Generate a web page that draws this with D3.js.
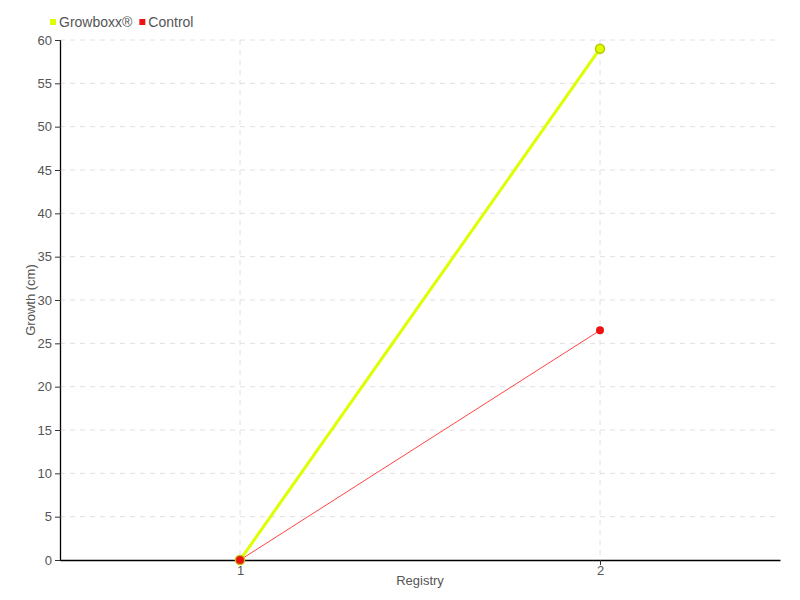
<!DOCTYPE html>
<html>
<head>
<meta charset="utf-8">
<script src="https://cdnjs.cloudflare.com/ajax/libs/d3/7.8.5/d3.min.js"></script>
<style>
  body { margin: 0; background: #fff; }
  svg text { font-family: "Liberation Sans", "DejaVu Sans", sans-serif; fill: #555; }
</style>
</head>
<body>
<div id="chart"></div>
<script>
// Data
const registries = [1, 2];
const growboxx = [0, 59];
const control = [0, 26.5];
const yTicks = [0, 5, 10, 15, 20, 25, 30, 35, 40, 45, 50, 55, 60];
const seriesNames = ["Growboxx®", "Control"];
const seriesColors = ["#ddff00", "#ee1111"];

const width = 800, height = 600;
const margin = { top: 40, right: 20, bottom: 40, left: 60 };
const font = '"Liberation Sans", "DejaVu Sans", sans-serif';

const svg = d3.select("#chart").append("svg")
  .attr("width", width).attr("height", height);

const x = d3.scaleLinear().domain([0.5, 2.5]).range([margin.left, width - margin.right]);
const y = d3.scaleLinear().domain([0, 60]).range([height - margin.bottom, margin.top]);

// Grid
svg.append("g").selectAll("line").data(yTicks.slice(1)).enter().append("line")
  .attr("x1", margin.left).attr("x2", width - margin.right)
  .attr("y1", d => y(d)).attr("y2", d => y(d))
  .attr("stroke", "#e0e0e0").attr("stroke-dasharray", "5,5");
svg.append("g").selectAll("line").data(registries).enter().append("line")
  .attr("x1", d => x(d)).attr("x2", d => x(d))
  .attr("y1", margin.top).attr("y2", height - margin.bottom)
  .attr("stroke", "#e0e0e0").attr("stroke-dasharray", "5,5");

// Axes
const yAxis = svg.append("g").attr("transform", `translate(${margin.left},0)`)
  .call(d3.axisLeft(y).tickValues(yTicks).tickSize(5).tickSizeOuter(0).tickPadding(3));
yAxis.selectAll(".tick line").attr("x2", -5).attr("x1", 1);
const xAxis = svg.append("g").attr("transform", `translate(0,${height - margin.bottom})`)
  .call(d3.axisBottom(x).tickValues(registries).tickFormat(d3.format("d")).tickSize(5).tickSizeOuter(0).tickPadding(1));
[yAxis, xAxis].forEach(a => {
  a.select(".domain").attr("stroke", "#000").attr("stroke-width", 1.3);
  a.selectAll(".tick line").attr("stroke", "#333");
  a.selectAll("text").style("font-size", "13px").style("font-family", font).attr("fill", "#555");
});

// Axis titles
svg.append("text").attr("x", (margin.left + width - margin.right) / 2).attr("y", 585)
  .attr("text-anchor", "middle").style("font-size", "13px").text("Registry");
svg.append("text").attr("transform", `translate(35,${(margin.top + height - margin.bottom) / 2}) rotate(-90)`)
  .attr("text-anchor", "middle").style("font-size", "13px").text("Growth (cm)");

// Lines
const line = d3.line().x((d, i) => x(registries[i])).y(d => y(d));
svg.append("path").datum(control).attr("d", line).attr("fill", "none")
  .attr("stroke", "#ff4444").attr("stroke-width", 1);
svg.append("path").datum(growboxx).attr("d", line).attr("fill", "none")
  .attr("stroke", "#ddff00").attr("stroke-width", 3);

// Points
svg.append("g").selectAll("circle").data(growboxx).enter().append("circle")
  .attr("cx", (d, i) => x(registries[i])).attr("cy", d => y(d)).attr("r", 4.5)
  .attr("fill", "#ddff00").attr("stroke", "#b8c800").attr("stroke-width", 1.5);
svg.append("g").selectAll("circle").data(control).enter().append("circle")
  .attr("cx", (d, i) => x(registries[i])).attr("cy", d => y(d)).attr("r", 4)
  .attr("fill", "#ee1111");

// Legend
const legend = svg.append("g").attr("transform", "translate(50,22)");
let lx = 0;
seriesNames.forEach((name, i) => {
  const g = legend.append("g").attr("transform", `translate(${lx},0)`);
  g.append("rect").attr("x", 0).attr("y", -3).attr("width", 6).attr("height", 6).attr("fill", seriesColors[i]);
  const t = g.append("text").attr("x", 9).attr("y", 5).style("font-size", "14px").text(name);
  lx += 9 + t.node().getComputedTextLength() + 7;
});
</script>
</body>
</html>
